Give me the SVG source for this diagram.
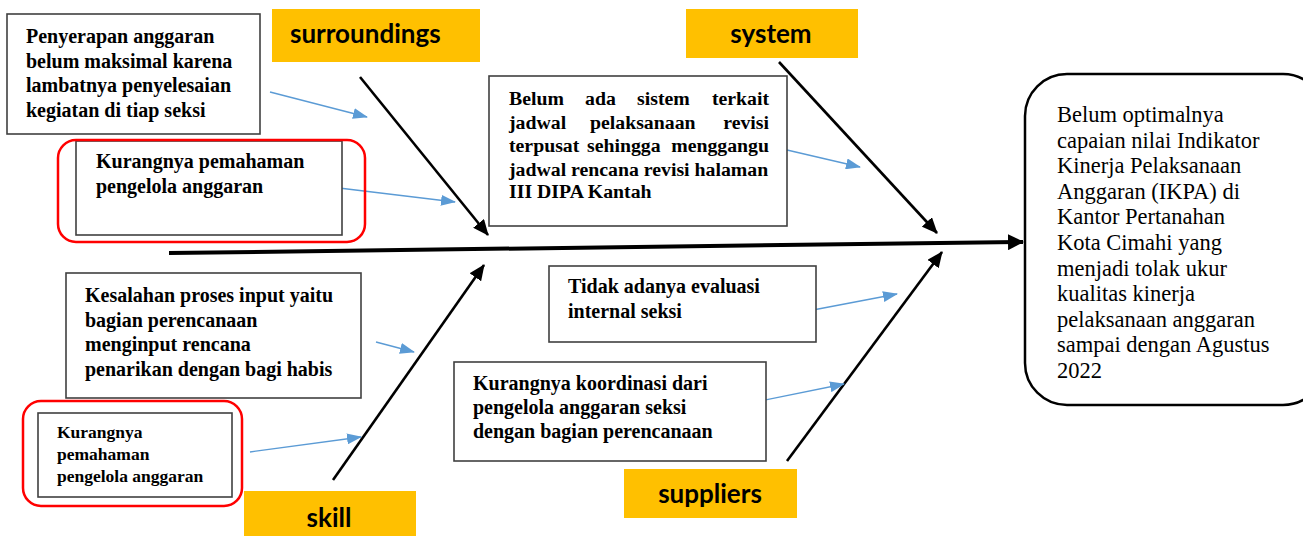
<svg xmlns="http://www.w3.org/2000/svg" width="1303" height="536" viewBox="0 0 1303 536">
<style>
.box{fill:#fff;stroke:#404040;stroke-width:1.6}
.red{fill:none;stroke:#ff0000;stroke-width:2.5}
.t{font-family:"Liberation Serif","Times New Roman",serif;font-weight:bold;font-size:20px;fill:#000}
.t2{font-size:19.8px}
.t3{font-size:17.5px}
.lab{fill:#ffc000}
.lt{font-family:Lato,"Liberation Sans",sans-serif;font-weight:bold;font-size:26px;fill:#000}
.blk{stroke:#000;stroke-width:2.6;fill:none;marker-end:url(#hb)}
.blu{stroke:#5b9bd5;stroke-width:1.3;fill:none;marker-end:url(#hu)}
.eff{font-family:"Liberation Serif","Times New Roman",serif;font-size:22.5px;fill:#000}
</style>
<defs>
<marker id="hb" viewBox="0 0 16 14" refX="15" refY="7" markerWidth="16" markerHeight="14" markerUnits="userSpaceOnUse" orient="auto"><path d="M0,0 L16,7 L0,14 Z" fill="#000"/></marker>
<marker id="hs" viewBox="0 0 16 16" refX="15" refY="8" markerWidth="16" markerHeight="16" markerUnits="userSpaceOnUse" orient="auto"><path d="M0,0 L16,8 L0,16 Z" fill="#000"/></marker>
<marker id="hu" viewBox="0 0 15 11" refX="14" refY="5.5" markerWidth="15" markerHeight="11" markerUnits="userSpaceOnUse" orient="auto"><path d="M0,0 L15,5.5 L0,11 Z" fill="#5b9bd5"/></marker>
</defs>

<g id="label-surroundings"><rect class="lab" x="272" y="9" width="208" height="53"/><text class="lt" x="290" y="43">surroundings</text></g>
<g id="label-system"><rect class="lab" x="686" y="9" width="172" height="49"/><text class="lt" x="771" y="43" text-anchor="middle">system</text></g>
<g id="label-skill"><rect class="lab" x="244" y="491" width="172" height="45"/><text class="lt" x="329" y="527" text-anchor="middle">skill</text></g>
<g id="label-suppliers"><rect class="lab" x="624" y="469" width="173" height="49"/><text class="lt" x="710" y="503" text-anchor="middle">suppliers</text></g>

<g id="connectors">
<line x1="169" y1="253" x2="1023" y2="242" stroke="#000" stroke-width="4" marker-end="url(#hs)"/>
<line class="blk" x1="360" y1="77" x2="488" y2="235"/>
<line class="blk" x1="779" y1="62" x2="937" y2="233"/>
<line class="blk" x1="333" y1="480" x2="484" y2="265"/>
<line class="blk" x1="787" y1="461" x2="942" y2="252"/>
<line class="blu" x1="270" y1="92" x2="367" y2="117"/>
<line class="blu" x1="339" y1="188" x2="455" y2="202"/>
<line class="blu" x1="787" y1="150" x2="860" y2="167"/>
<line class="blu" x1="376" y1="342" x2="414" y2="352"/>
<line class="blu" x1="250" y1="452" x2="361" y2="437"/>
<line class="blu" x1="813" y1="310" x2="897" y2="294"/>
<line class="blu" x1="760" y1="401" x2="844" y2="384"/>
</g>

<g id="cause-penyerapan"><rect class="box" x="7" y="14" width="253" height="120"/>
<text class="t" x="26" y="43">Penyerapan anggaran</text>
<text class="t" x="26" y="68">belum maksimal karena</text>
<text class="t" x="26" y="92">lambatnya penyelesaian</text>
<text class="t" x="26" y="117">kegiatan di tiap seksi</text></g>

<g id="cause-pemahaman-1"><rect class="box" x="76" y="141" width="266" height="94"/>
<rect class="red" x="58" y="140" width="307" height="102" rx="18"/>
<text class="t" x="96" y="168">Kurangnya pemahaman</text>
<text class="t" x="96" y="193">pengelola anggaran</text></g>

<g id="cause-sistem"><rect class="box" x="489" y="76" width="298" height="150"/>
<g class="t t2">
<text x="509" y="105">Belum</text><text x="585" y="105">ada</text><text x="637" y="105">sistem</text><text x="769" y="105" text-anchor="end">terkait</text>
<text x="509" y="129">jadwal</text><text x="590" y="129">pelaksanaan</text><text x="769" y="129" text-anchor="end">revisi</text>
<text x="509" y="152">terpusat</text><text x="587" y="152">sehingga</text><text x="769" y="152" text-anchor="end">menggangu</text>
<text x="509" y="176">jadwal rencana revisi halaman</text>
<text x="509" y="198">III DIPA Kantah</text>
</g></g>

<g id="cause-kesalahan"><rect class="box" x="66" y="273" width="295" height="125"/>
<text class="t" x="85" y="302">Kesalahan proses input yaitu</text>
<text class="t" x="85" y="327">bagian perencanaan</text>
<text class="t" x="85" y="351">menginput rencana</text>
<text class="t" x="85" y="376">penarikan dengan bagi habis</text></g>

<g id="cause-pemahaman-2"><rect class="box" x="38" y="413" width="194" height="84"/>
<rect class="red" x="23" y="401" width="219" height="105" rx="18"/>
<text class="t t3" x="57" y="438">Kurangnya</text>
<text class="t t3" x="57" y="460">pemahaman</text>
<text class="t t3" x="57" y="482">pengelola anggaran</text></g>

<g id="cause-evaluasi"><rect class="box" x="549" y="266" width="267" height="76"/>
<text class="t" x="568" y="293">Tidak adanya evaluasi</text>
<text class="t" x="568" y="318">internal seksi</text></g>

<g id="cause-koordinasi"><rect class="box" x="454" y="362" width="312" height="99"/>
<text class="t" x="473" y="390">Kurangnya koordinasi dari</text>
<text class="t" x="473" y="414">pengelola anggaran seksi</text>
<text class="t" x="473" y="438">dengan bagian perencanaan</text></g>

<g id="effect"><rect x="1025" y="74" width="300" height="331" rx="42" fill="#fff" stroke="#000" stroke-width="2.5"/>
<text class="eff" x="1057" y="122">Belum optimalnya</text>
<text class="eff" x="1057" y="147.6">capaian nilai Indikator</text>
<text class="eff" x="1057" y="173.2">Kinerja Pelaksanaan</text>
<text class="eff" x="1057" y="198.8">Anggaran (IKPA) di</text>
<text class="eff" x="1057" y="224.4">Kantor Pertanahan</text>
<text class="eff" x="1057" y="250">Kota Cimahi yang</text>
<text class="eff" x="1057" y="275.6">menjadi tolak ukur</text>
<text class="eff" x="1057" y="301.2">kualitas kinerja</text>
<text class="eff" x="1057" y="326.8">pelaksanaan anggaran</text>
<text class="eff" x="1057" y="352.4">sampai dengan Agustus</text>
<text class="eff" x="1057" y="378">2022</text></g>
</svg>
